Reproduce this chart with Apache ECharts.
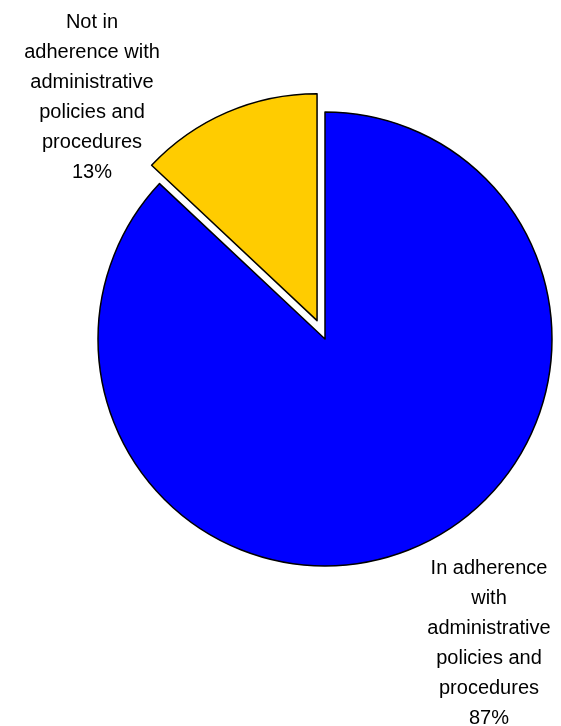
<!DOCTYPE html>
<html>
<head>
<meta charset="utf-8">
<script src="https://cdn.jsdelivr.net/npm/echarts@6/dist/echarts.min.js"></script>
<style>
html,body{margin:0;padding:0;background:#fff;}
#chart{width:561px;height:726px;}
</style>
</head>
<body>
<div id="chart"></div>
<script>
const categories = [
  "In adherence\nwith\nadministrative\npolicies and\nprocedures",
  "Not in\nadherence with\nadministrative\npolicies and\nprocedures"
];
const values = [87, 13];
const colors = ["#0000FF", "#FFCC00"];
const exploded = [false, true];

const CENTER = [325, 339];
const RADIUS = 227;
const EXPLODE = 20;
const labelPos = [
  { x: 489, y: 643 },
  { x: 92, y: 97 }
];

// angle of each slice's mid-point (start at 90deg, clockwise)
const total = values.reduce(function (a, b) { return a + b; }, 0);
function midAngle(idx) {
  let acc = 0;
  for (let i = 0; i < idx; i++) acc += values[i];
  const mid = (acc + values[idx] / 2) / total * 360;
  return (90 - mid) * Math.PI / 180;
}

function makeSeries(idx) {
  let cx = CENTER[0], cy = CENTER[1];
  if (exploded[idx]) {
    const a = midAngle(idx);
    cx += EXPLODE * Math.cos(a);
    cy -= EXPLODE * Math.sin(a);
  }
  return {
    type: 'pie',
    center: [cx, cy],
    radius: [0, RADIUS],
    startAngle: 90,
    clockwise: true,
    avoidLabelOverlap: false,
    silent: true,
    emphasis: { disabled: true },
    labelLine: { show: false },
    labelLayout: function () {
      const p = labelPos[idx];
      return { x: p.x, y: p.y, align: 'center', verticalAlign: 'middle' };
    },
    data: categories.map(function (c, i) {
      const visible = i === idx;
      return {
        name: c,
        value: values[i],
        itemStyle: visible
          ? { color: colors[i], borderColor: '#000000', borderWidth: 1.5 }
          : { color: 'rgba(0,0,0,0)', borderWidth: 0 },
        label: {
          show: visible,
          position: 'inside',
          formatter: function (p) { return p.name + '\n' + p.value + '%'; },
          fontFamily: 'Liberation Sans, Arial, sans-serif',
          fontSize: 20,
          lineHeight: 30,
          color: '#000000',
          align: 'center'
        }
      };
    })
  };
}

const chart = echarts.init(document.getElementById('chart'), null, { renderer: 'canvas' });
chart.setOption({
  animation: false,
  backgroundColor: '#ffffff',
  series: values.map(function (v, i) { return makeSeries(i); })
});
</script>
</body>
</html>
